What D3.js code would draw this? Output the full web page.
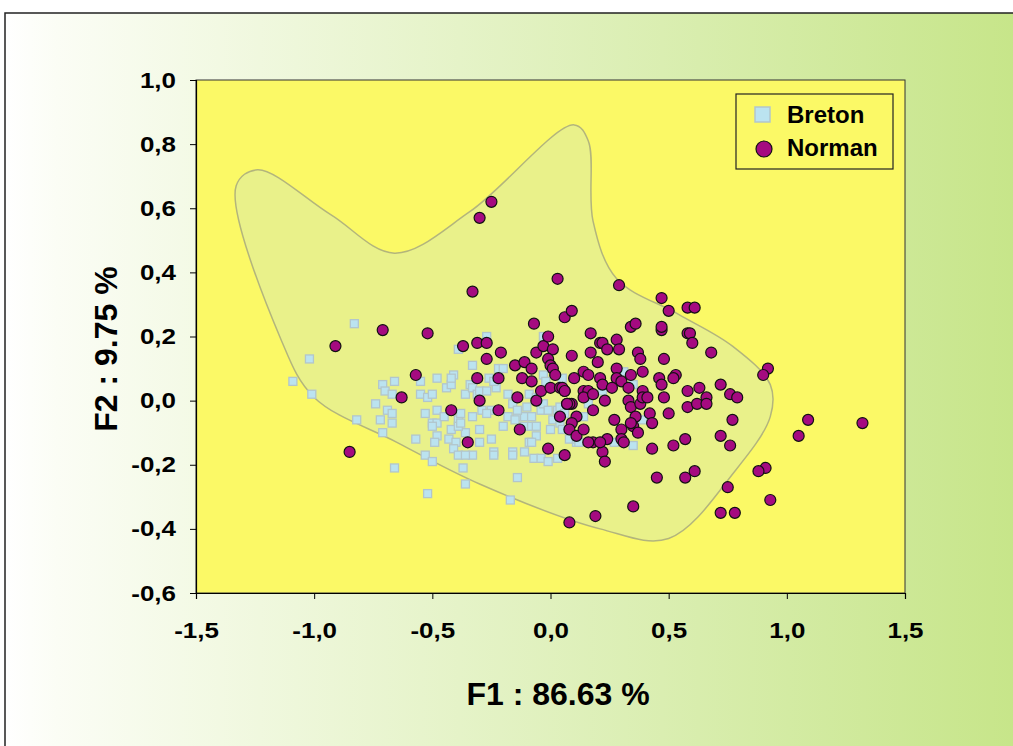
<!DOCTYPE html>
<html>
<head>
<meta charset="utf-8">
<script src="https://cdn.jsdelivr.net/npm/d3@7"></script>
<style>
  body { margin: 0; background: #fff; }
  text { font-family: "Liberation Sans", Arial, sans-serif; font-weight: bold; fill: #000; }
</style>
</head>
<body>
<div id="chart"></div>
<script>
const w = 1013;
const h = 746;

const xTicks = [-1.5, -1.0, -0.5, 0.0, 0.5, 1.0, 1.5];
const yTicks = [-0.6, -0.4, -0.2, 0.0, 0.2, 0.4, 0.6, 0.8, 1.0];
const xTitle = 'F1 : 86.63 %';
const yTitle = 'F2 : 9.75 %';
const seriesNames = ['Breton', 'Norman'];

// envelope drawn behind the points (F1, F2)
const hull = [
  [-1.33, 0.67], [-1.24, 0.72], [-0.93, 0.58], [-0.66, 0.46], [-0.34, 0.59],
  [0.10, 0.86], [0.16, 0.81], [0.18, 0.56], [0.28, 0.38], [0.54, 0.27],
  [0.77, 0.17], [0.93, 0.05], [0.93, -0.05], [0.78, -0.22], [0.50, -0.43],
  [0.21, -0.40], [-0.30, -0.26], [-0.65, -0.13], [-1.00, 0.01], [-1.14, 0.19]
];

const breton = [
  [-0.83,0.24],[-1.02,0.13],[-1.09,0.06],[-1.01,0.02],[-0.82,-0.06],[-0.66,-0.21],[-0.52,-0.29],
  [-0.74,-0.01],[-0.72,-0.06],[-0.71,-0.10],[-0.71,0.05],[-0.70,0.03],[-0.67,0.02],[-0.66,0.06],
  [-0.69,-0.03],[-0.67,-0.04],[-0.67,-0.07],[-0.57,-0.12],[-0.53,-0.17],[-0.50,-0.19],[-0.55,0.02],
  [-0.52,0.01],[-0.50,0.02],[-0.48,0.07],[-0.55,0.06],[-0.53,-0.04],[-0.48,-0.03],[-0.50,-0.07],
  [-0.48,-0.07],[-0.50,-0.08],[-0.45,-0.05],[-0.48,-0.11],[-0.49,-0.13],[-0.42,-0.09],[-0.43,-0.12],
  [-0.40,-0.13],[-0.41,-0.15],[-0.39,-0.17],[-0.36,-0.10],[-0.33,-0.17],[-0.37,-0.21],[-0.36,-0.26],
  [-0.41,0.08],[-0.44,0.04],[-0.42,0.05],[-0.39,0.16],[-0.39,-0.06],[-0.39,-0.08],[-0.38,-0.04],
  [-0.33,0.11],[-0.34,0.05],[-0.36,0.02],[-0.33,-0.05],[-0.30,-0.09],[-0.33,0.04],[-0.31,0.02],
  [-0.42,0.07],[-0.27,0.20],[-0.30,0.03],[-0.27,0.03],[-0.23,0.04],[-0.22,0.10],[-0.20,0.10],
  [-0.26,0.07],[-0.24,0.06],[-0.18,0.02],[-0.16,-0.01],[-0.25,-0.03],[-0.29,-0.03],[-0.27,-0.04],
  [-0.38,-0.07],[-0.25,-0.12],[-0.30,-0.13],[-0.36,-0.17],[-0.24,-0.16],[-0.24,-0.17],[-0.16,-0.16],
  [-0.16,-0.17],[-0.20,-0.08],[-0.18,-0.05],[-0.14,-0.05],[-0.11,-0.05],[-0.08,-0.05],[-0.04,-0.03],
  [-0.09,0.02],[-0.06,0.01],[-0.10,-0.02],[-0.03,-0.01],[-0.01,-0.03],[-0.14,-0.03],[-0.15,-0.06],
  [-0.11,-0.08],[-0.08,-0.08],[-0.06,-0.08],[-0.06,-0.11],[-0.09,-0.13],[-0.08,-0.13],[-0.11,-0.16],
  [-0.07,-0.18],[-0.04,-0.18],[-0.01,-0.19],[0.03,-0.18],[0.00,-0.09],[0.01,-0.06],[0.04,-0.07],
  [0.03,-0.03],[0.04,-0.02],[0.06,-0.04],[0.05,-0.09],[0.08,-0.12],[0.11,-0.13],[0.11,-0.12],
  [-0.03,0.08],[-0.03,0.20],[-0.02,0.06],[-0.14,-0.24],[-0.17,-0.31],[0.05,0.07],[0.16,-0.01],
  [0.14,-0.05],[0.12,-0.13],[0.27,-0.13],[0.35,-0.14],[0.39,-0.06],[0.31,0.09],[0.35,0.05],[0.22,0.03]
];

const norman = [
  [-0.25,0.62],[-0.30,0.57],[0.03,0.38],[-0.33,0.34],[0.29,0.36],
  [-0.91,0.17],[-0.71,0.22],[-0.52,0.21],[-0.85,-0.16],[-0.63,0.01],[-0.57,0.08],[-0.42,-0.03],[-0.35,-0.13],
  [-0.37,0.17],[-0.31,0.18],[-0.27,0.18],[-0.27,0.13],[-0.21,0.15],[-0.31,0.07],[-0.22,0.07],[-0.30,0.00],
  [-0.22,-0.03],[-0.13,-0.09],[-0.07,0.24],[-0.15,0.11],[-0.11,0.12],[-0.08,0.10],[-0.12,0.07],[-0.08,0.06],
  [-0.06,0.00],[-0.14,0.01],[-0.04,0.03],[0.06,0.26],[0.09,0.28],
  [-0.06,0.15],[-0.03,0.17],[0.01,0.16],[-0.01,0.13],[0.00,0.11],[0.01,0.10],[0.02,0.08],[0.00,0.04],
  [0.04,0.04],[-0.01,0.20],[0.06,0.03],[0.07,-0.01],[0.09,-0.01],[0.09,0.14],[0.10,0.07],[0.14,0.09],
  [0.16,0.08],[0.14,0.03],[0.16,0.03],[0.14,0.01],[0.18,0.02],[0.18,-0.03],[0.20,0.12],[0.17,0.15],
  [0.21,0.18],[0.22,0.18],[0.24,0.16],[0.28,0.19],[0.29,0.16],[0.21,0.07],[0.22,0.05],[0.28,0.10],
  [0.28,0.07],[0.30,0.06],[0.33,0.04],[0.34,0.08],[0.26,0.04],[0.23,0.00],[0.33,0.00],[0.34,-0.02],
  [0.38,-0.01],[0.39,0.03],[0.39,0.09],[0.37,0.15],[0.38,0.13],[0.36,-0.05],[0.39,0.01],[0.41,0.01],
  [0.42,-0.04],[0.43,-0.07],[0.35,-0.08],[0.34,-0.07],[0.30,-0.09],[0.27,-0.06],[0.18,-0.13],[0.22,-0.16],
  [0.23,-0.19],[0.24,-0.12],[0.21,-0.13],[0.30,-0.12],[0.31,-0.13],[0.37,-0.10],[0.43,-0.15],[0.52,-0.14],
  [0.57,-0.12],[0.61,-0.22],[0.45,-0.24],[0.57,-0.24],[0.48,0.13],[0.46,0.07],[0.47,0.05],[0.53,0.08],
  [0.52,0.07],[0.58,0.03],[0.63,0.04],[0.48,0.01],[0.58,-0.02],[0.62,-0.01],[0.50,-0.04],[0.58,0.21],
  [0.59,0.21],[0.60,0.18],[0.58,0.29],[0.61,0.29],[0.50,0.28],[0.47,0.32],[0.34,0.23],[0.36,0.24],
  [0.47,0.22],[0.47,0.23],[0.17,0.21],[-0.01,-0.15],[0.06,-0.17],
  [0.04,-0.05],[0.11,-0.05],[0.09,-0.07],[0.08,-0.09],[0.11,-0.11],[0.14,-0.09],[0.16,-0.13],
  [0.05,0.04],[0.06,0.03],[0.08,-0.01],[0.07,-0.01],
  [0.68,0.15],[0.72,0.05],[0.76,0.02],[0.79,0.01],[0.77,-0.06],[0.72,-0.11],[0.76,-0.14],[0.66,0.01],[0.66,-0.01],
  [0.92,0.10],[0.90,0.08],[1.09,-0.06],[1.05,-0.11],[1.32,-0.07],[0.91,-0.21],[0.88,-0.22],[0.93,-0.31],
  [0.75,-0.27],[0.72,-0.35],[0.78,-0.35],[0.35,-0.33],[0.08,-0.38],[0.19,-0.36]
];

const plotLeft = 196, plotRight = 905, plotTop = 80, plotBottom = 593;

const xScale = d3.scaleLinear().domain([-1.5, 1.5]).range([plotLeft, plotRight]);
const yScale = d3.scaleLinear().domain([-0.6, 1.0]).range([plotBottom, plotTop]);
const fmt = d => d3.format('.1f')(d).replace('.', ',').replace('−', '-');

const svg = d3.select('#chart')
  .append('svg')
  .attr('width', w)
  .attr('height', h);

const defs = svg.append('defs');
const grad = defs.append('linearGradient')
  .attr('id', 'bg')
  .attr('x1', '0%').attr('x2', '100%').attr('y1', '0%').attr('y2', '0%');
grad.append('stop').attr('offset', '0%').attr('stop-color', '#ffffff');
grad.append('stop').attr('offset', '5%').attr('stop-color', '#fbfdf5');
grad.append('stop').attr('offset', '100%').attr('stop-color', '#c6e588');

svg.append('rect')
  .attr('x', 5).attr('y', 13)
  .attr('width', w + 10).attr('height', h + 10)
  .attr('fill', 'url(#bg)')
  .attr('stroke', '#222')
  .attr('stroke-width', 1.5);

// plot area
svg.append('rect')
  .attr('x', plotLeft).attr('y', plotTop)
  .attr('width', plotRight - plotLeft).attr('height', plotBottom - plotTop)
  .attr('fill', '#fbf966')
  .attr('stroke', '#333')
  .attr('stroke-width', 1);

svg.append('path')
  .datum(hull)
  .attr('d', d3.line()
    .x(d => xScale(d[0]))
    .y(d => yScale(d[1]))
    .curve(d3.curveCatmullRomClosed.alpha(0.5)))
  .attr('fill', '#e9f18a')
  .attr('stroke', '#b3b57c')
  .attr('stroke-width', 1.5);

const xAxis = d3.axisBottom(xScale).tickValues(xTicks).tickFormat(fmt).tickSize(6).tickPadding(23);
const yAxis = d3.axisLeft(yScale).tickValues(yTicks).tickFormat(fmt).tickSize(6).tickPadding(14);

const gx = svg.append('g')
  .attr('transform', 'translate(0,' + plotBottom + ')')
  .call(xAxis);
const gy = svg.append('g')
  .attr('transform', 'translate(' + plotLeft + ',0)')
  .call(yAxis);

[gx, gy].forEach(g => {
  g.select('.domain').attr('stroke', '#000').attr('stroke-width', 1.2);
  g.selectAll('.tick line').attr('stroke', '#000').attr('stroke-width', 1);
  g.selectAll('.tick text')
    .style('font-family', '"Liberation Sans", Arial, sans-serif')
    .style('font-weight', 'bold')
    .style('font-size', '22px')
    .attr('fill', '#000')
    .each(function () {
      // the original labels are drawn a little wider than the plain font
      const len = this.getComputedTextLength();
      d3.select(this).attr('textLength', len * 1.18).attr('lengthAdjust', 'spacingAndGlyphs');
    });
});

// points
svg.append('g')
  .selectAll('rect')
  .data(breton)
  .enter()
  .append('rect')
  .attr('x', d => xScale(d[0]) - 4)
  .attr('y', d => yScale(d[1]) - 4)
  .attr('width', 8)
  .attr('height', 8)
  .attr('fill', '#bbe3f0')
  .attr('stroke', '#b2c6cc')
  .attr('stroke-width', 1.3);

svg.append('g')
  .selectAll('circle')
  .data(norman)
  .enter()
  .append('circle')
  .attr('cx', d => xScale(d[0]))
  .attr('cy', d => yScale(d[1]))
  .attr('r', 5.5)
  .attr('fill', '#a50a80')
  .attr('stroke', '#111')
  .attr('stroke-width', 1.2);

// legend
const lg = svg.append('g').attr('transform', 'translate(736,94)');
lg.append('rect')
  .attr('width', 157).attr('height', 75)
  .attr('fill', '#fbf966')
  .attr('stroke', '#222')
  .attr('stroke-width', 1.2);
lg.append('rect')
  .attr('x', 19).attr('y', 13).attr('width', 15).attr('height', 15)
  .attr('fill', '#bbe3f0').attr('stroke', '#b2c6cc').attr('stroke-width', 1.5);
lg.append('circle')
  .attr('cx', 28).attr('cy', 55).attr('r', 8)
  .attr('fill', '#a50a80').attr('stroke', '#111').attr('stroke-width', 1.2);
lg.selectAll('text.lab')
  .data(seriesNames)
  .enter()
  .append('text')
  .attr('class', 'lab')
  .attr('x', 51)
  .attr('y', (d, i) => 29 + i * 33)
  .style('font-size', '24px')
  .text(d => d);

// axis titles
svg.append('text')
  .attr('x', 558).attr('y', 705)
  .attr('text-anchor', 'middle')
  .style('font-size', '32px')
  .text(xTitle);

svg.append('text')
  .attr('transform', 'translate(117,349) rotate(-90)')
  .attr('text-anchor', 'middle')
  .style('font-size', '32px')
  .text(yTitle);
</script>
</body>
</html>
